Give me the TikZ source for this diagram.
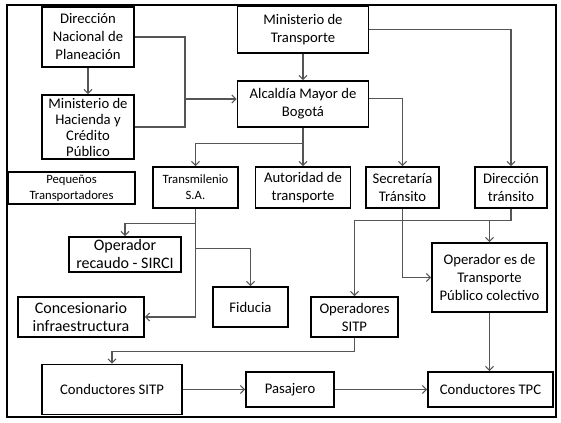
\documentclass[tikz,border=0pt]{standalone}
\usepackage{fontspec}
\setmainfont{Carlito}
\usepackage{tikz}
\usetikzlibrary{arrows.meta, positioning}
\definecolor{lnkgray}{RGB}{85,85,85}

\begin{document}
\begin{tikzpicture}[x=0.75pt, y=-0.75pt,
    bx/.style 2 args={draw, line width=1.35pt, align=center, inner sep=0.5pt,
      minimum width=#1*0.75pt, minimum height=#2*0.75pt,
      font=\fontsize{11}{13.5}\selectfont},
    sm/.style={font=\fontsize{9.5}{12}\selectfont},
    arr/.style={lnkgray, line width=0.8pt, -{Straight Barb[length=3pt,width=6pt]}},
    ln/.style={lnkgray, line width=0.8pt}]
        \useasboundingbox (0,0) rectangle (561,423);
        \draw[line width=1pt] (7,5) rectangle (556,417);
        % boxes
        \node[bx={92}{60}] (dnp) at (88,37) {Dirección\\Nacional de\\Planeación};
        \node[bx={92}{64}, font=\fontsize{11}{12}\selectfont] (mhcp) at (88,127)
          {Ministerio de\\Hacienda y\\Crédito\\Público};
        \node[bx={131}{47}] (mint) at (303,29.5) {Ministerio de\\Transporte};
        \node[bx={131}{46}] (amb) at (303,104) {Alcaldía Mayor de\\Bogotá};
        \node[bx={127}{32}, sm] (peq) at (71.5,188) {Pequeños\\Transportadores};
        \node[bx={85}{41}, sm] (tm) at (195.5,187.5) {Transmilenio\\S.A.};
        \node[bx={95}{41}] (aut) at (303,187.5) {Autoridad de\\transporte};
        \node[bx={73}{41}] (sec) at (402.5,187.5) {Secretaría\\Tránsito};
        \node[bx={72}{41}] (dtr) at (511,187.5) {Dirección\\tránsito};
        \node[bx={112}{35}, font=\fontsize{12}{13.5}\selectfont] (sirci) at (125,254.5)
          {Operador\\recaudo - SIRCI};
        \node[bx={75}{40}] (fid) at (250.5,307) {Fiducia};
        \node[bx={126}{40}, font=\fontsize{12}{14}\selectfont] (con) at (81,317)
          {Concesionario\\infraestructura};
        \node[bx={87}{40}] (ositp) at (354.5,317) {Operadores\\SITP};
        \node[bx={115}{69}] (otpc) at (489.5,277.5)
          {Operador es de\\Transporte\\Público colectivo};
        \node[bx={140}{50}] (csitp) at (112,389.5) {Conductores SITP};
        \node[bx={88}{35}] (pas) at (290,389.5) {Pasajero};
        \node[bx={125}{35}] (ctpc) at (490.5,389.5) {Conductores TPC};
        % links
        \coordinate (jn) at (185,99);
        \draw[arr] (dnp) -- (mhcp);
        \draw[ln] (dnp.east) -| (jn);
        \draw[ln] (mhcp.east) -| (jn);
        \draw[arr] (jn) -- (jn -| amb.west);
        \draw[arr] (mint) -- (amb);
        \draw[arr] (mint.east) -| (dtr.north);
        \draw[arr] (amb.5) -| (sec.north);
        \draw[arr] (amb) -- (aut);
        \draw[arr] (amb.south) -- ++(0,16) -| (tm.north);
        \draw[arr] (tm.south) -- ++(0,15) -| (sirci.north);
        \draw[arr] (tm.south) -- ++(0,40) -| (fid.north);
        \draw[arr] (tm.south) |- (con.east);
        \draw[arr] (dtr.south) -- ++(0,12) -| (ositp.north);
        \draw[arr] (dtr.south) -- ++(0,12) -| (otpc.north);
        \draw[arr] (sec.south) |- (otpc.west);
        \draw[arr] (otpc.south) -- (otpc.south |- ctpc.north);
        \draw[arr] (ositp.south) -- ++(0,14) -| (csitp.north);
        \draw[arr] (csitp) -- (pas);
        \draw[arr] (pas) -- (ctpc);
      \end{tikzpicture}
\end{document}
